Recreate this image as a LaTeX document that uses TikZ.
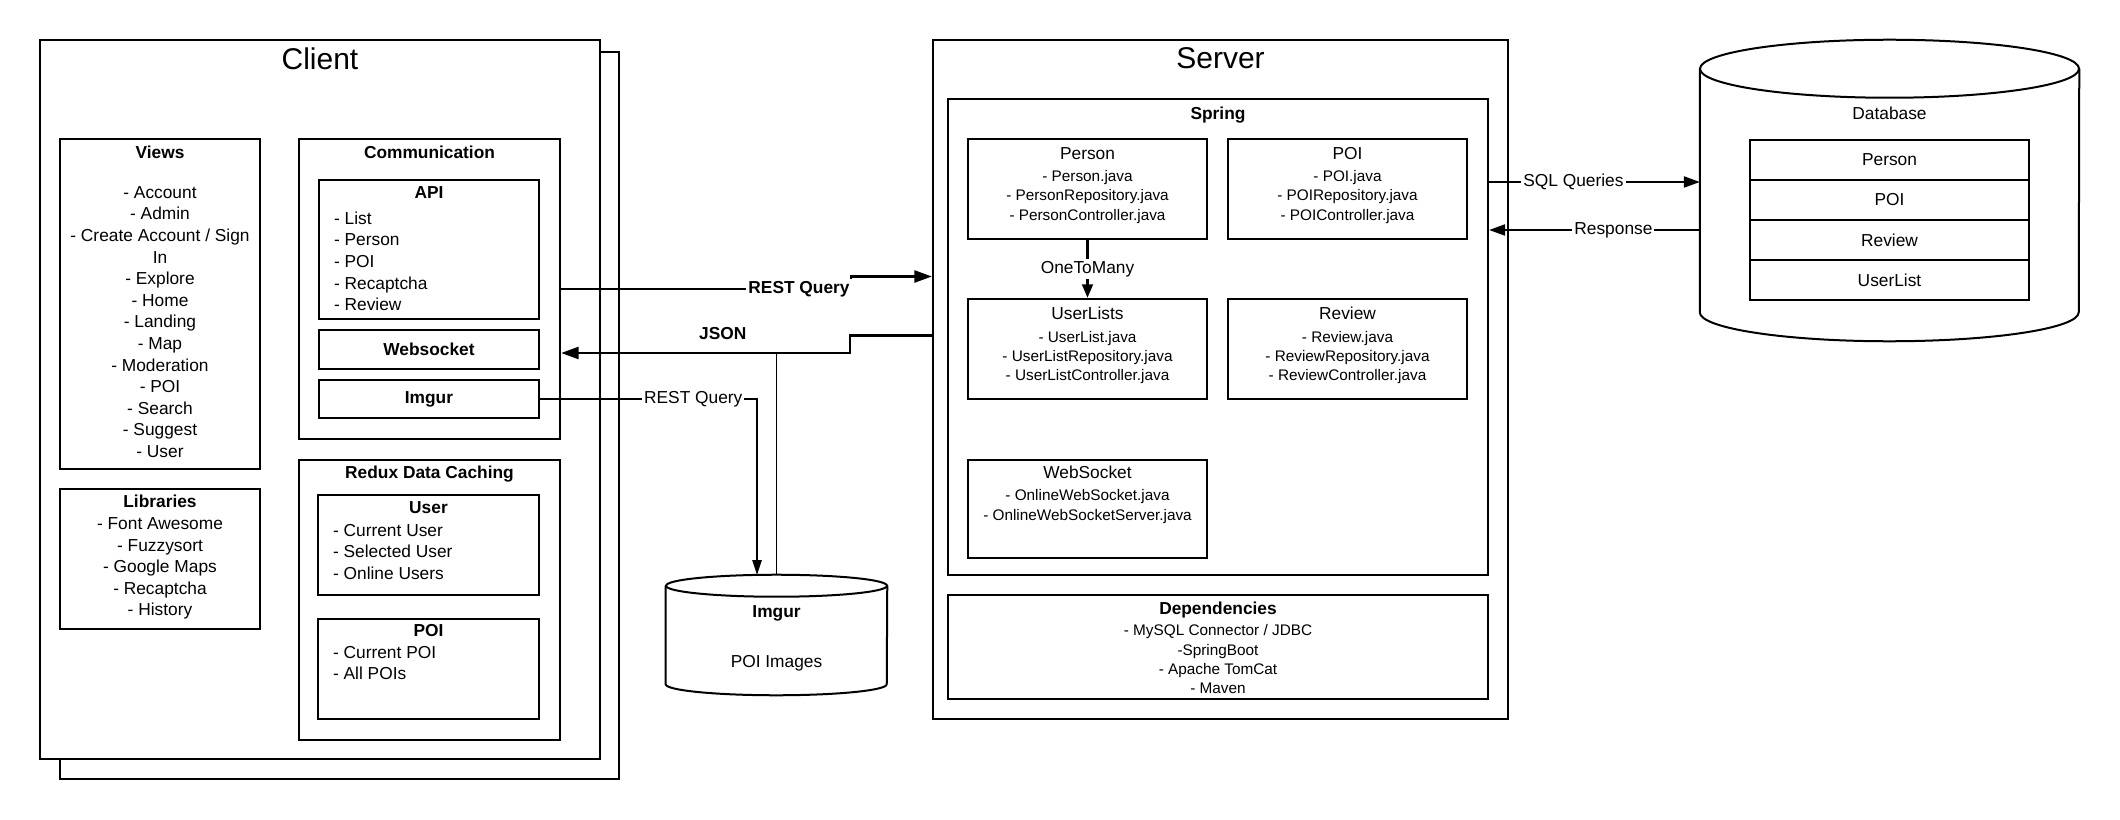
\documentclass[tikz,border=0pt]{standalone}
\usepackage{fontspec}
\setmainfont{Liberation Sans}
\usetikzlibrary{positioning,fit,arrows.meta}

\begin{document}
\begin{tikzpicture}[x=0.75pt, y=-0.75pt]
        \tikzstyle{every node}=[inner sep=0pt, font=\fontsize{13}{16.2}\selectfont]
        \tikzstyle{box}=[draw, line width=1.8pt, fill=white]
        \tikzstyle{txt}=[align=center]
        \tikzstyle{filetxt}=[font=\fontsize{11.5}{14.5}\selectfont, align=center]
        \tikzstyle{bigtitle}=[font=\fontsize{22.5}{27}\selectfont]
        \tikzstyle{lbl}=[fill=white, inner sep=1.5pt]
        \tikzstyle{link}=[line width=1.75pt, -{Triangle[length=13pt,width=9pt]}]
        \tikzstyle{thinlink}=[line width=1pt, -{Triangle[length=12pt,width=8.5pt]}]
        \tikzstyle{cyl}=[line width=1.5pt, fill=white]
        \useasboundingbox (0,0) rectangle (2120,820);

        \node[box, fit={(60,52) (619,779)}] (clientback) {};
        \node[box, fit={(40,40) (600,759)}] (client) {};
        \node[bigtitle, below=6.4pt of client.north] (clienttitle) {Client};

        \node[box, fit={(60,139) (260,469)}] (views) {};
        \node[txt, below=5.8pt of views.north] (viewslist) {\textbf{Views}\\[13.8pt]- Account\\- Admin\\- Create Account / Sign\\In\\- Explore\\- Home\\- Landing\\- Map\\- Moderation\\- POI\\- Search\\- Suggest\\- User};
        \node[box, fit={(60,489) (260,629)}] (libs) {};
        \node[txt, below=5.5pt of libs.north] (libslist) {\textbf{Libraries}\\- Font Awesome\\- Fuzzysort\\- Google Maps\\- Recaptcha\\- History};

        \node[box, fit={(299,139) (560,439)}] (comm) {};
        \node[below=6pt of comm.north] (commtitle) {\textbf{Communication}};
        \node[box, fit={(319,180) (539,319)}] (api) {};
        \node[below=5.5pt of api.north] (apititle) {\textbf{API}};
        \node[align=left, below right=24.5pt and 12pt of api.north west] (apilist) {- List\\- Person\\- POI\\- Recaptcha\\- Review};
        \node[box, fit={(319,330) (539,369)}] (wsock) {};
        \node at (wsock.center) (wsocktxt) {\textbf{Websocket}};
        \node[box, fit={(319,380) (539,418)}] (imgurc) {};
        \node at (imgurc.center) (imgurctxt) {\textbf{Imgur}};

        \node[box, fit={(299,460) (560,740)}] (redux) {};
        \node[below=5pt of redux.north] (reduxtitle) {\textbf{Redux Data Caching}};
        \node[box, fit={(318,495) (539,595)}] (ruser) {};
        \node[below=5.5pt of ruser.north] (rusertitle) {\textbf{User}};
        \node[align=left, below right=22.5pt and 12pt of ruser.north west] (ruserlist) {- Current User\\- Selected User\\- Online Users};
        \node[box, fit={(318,619) (539,719)}] (rpoi) {};
        \node[below=5pt of rpoi.north] (rpoititle) {\textbf{POI}};
        \node[align=left, below right=21pt and 12pt of rpoi.north west] (rpoilist) {- Current POI\\- All POIs};

        \node[box, fit={(933,40) (1508,719)}] (server) {};
        \node[bigtitle, below=6.4pt of server.north] (servertitle) {Server};
        \node[box, fit={(948,99) (1488,575)}] (spring) {};
        \node[below=6.5pt of spring.north] (springtitle) {\textbf{Spring}};

        \node[box, fit={(968,139) (1207,239)}] (person) {};
        \node[filetxt, below=6.8pt of person.north] (personfiles) {{\fontsize{13}{16}\selectfont Person}\\[2.25pt]- Person.java\\- PersonRepository.java\\- PersonController.java};
        \node[box, fit={(1228,139) (1467,239)}] (poi) {};
        \node[filetxt, below=6.8pt of poi.north] (poifiles) {{\fontsize{13}{16}\selectfont POI}\\[2.25pt]- POI.java\\- POIRepository.java\\- POIController.java};
        \node[box, fit={(968,299) (1207,399)}] (userlists) {};
        \node[filetxt, below=6.8pt of userlists.north] (userlistsfiles) {{\fontsize{13}{16}\selectfont UserLists}\\[2.25pt]- UserList.java\\- UserListRepository.java\\- UserListController.java};
        \node[box, fit={(1228,299) (1467,399)}] (review) {};
        \node[filetxt, below=6.8pt of review.north] (reviewfiles) {{\fontsize{13}{16}\selectfont Review}\\[2.25pt]- Review.java\\- ReviewRepository.java\\- ReviewController.java};
        \node[box, fit={(968,460) (1207,558)}] (wsserver) {};
        \node[filetxt, below=5.2pt of wsserver.north] (wsfiles) {{\fontsize{13}{16}\selectfont WebSocket}\\[2.25pt]- OnlineWebSocket.java\\- OnlineWebSocketServer.java};
        \node[box, fit={(948,595) (1488,699)}] (deps) {};
        \node[filetxt, below=5.8pt of deps.north] (depslist) {{\fontsize{13}{16}\selectfont\bfseries Dependencies}\\[1.5pt]- MySQL Connector / JDBC\\-SpringBoot\\- Apache TomCat\\- Maven};

        \node[fit={(1700,40) (2079,341)}] (db) {};
        \draw[cyl] ([yshift=-21.75pt]db.north west) -- ([yshift=21.75pt]db.south west) arc[start angle=180, end angle=0, x radius=189.5, y radius=29] -- ([yshift=-21.75pt]db.north east);
        \draw[cyl] ([yshift=-21.75pt]db.north) ellipse [x radius=189.5, y radius=29];
        \node[below=50pt of db.north] (dbtitle) {Database};
        \node[box, fit={(1750,140) (2029,180)}] (tperson) {};
        \node at (tperson.center) (tpersontxt) {Person};
        \node[box, fit={(1750,180) (2029,220)}] (tpoi) {};
        \node at (tpoi.center) (tpoitxt) {POI};
        \node[box, fit={(1750,220) (2029,260)}] (treview) {};
        \node at (treview.center) (treviewtxt) {Review};
        \node[box, fit={(1750,260) (2029,300)}] (tuserlist) {};
        \node at (tuserlist.center) (tuserlisttxt) {UserList};

        \node[fit={(666,575) (887,695)}] (imgdb) {};
        \draw[cyl] ([yshift=-8.25pt]imgdb.north west) -- ([yshift=8.25pt]imgdb.south west) arc[start angle=180, end angle=0, x radius=110.5, y radius=11] -- ([yshift=-8.25pt]imgdb.north east);
        \draw[cyl] ([yshift=-8.25pt]imgdb.north) ellipse [x radius=110.5, y radius=11];
        \node[txt, below=22.6pt of imgdb.north] (imgdbtxt) {\textbf{Imgur}\\[22pt]POI Images};

        \draw[link] (comm.east) -- node[lbl, pos=0.82] {\textbf{REST Query}} ++(290,0) |- ([yshift=77.25pt]server.west);
        \draw[link] ([yshift=33pt]server.west) -- ++(-82,0) |- node[pos=0.72, above=9pt] (jsonlbl) {\textbf{JSON}} coordinate[pos=0.626] (jsonfork) ([yshift=-48pt]comm.east);
        \draw[line width=1.1pt] (jsonfork -| imgdb.north) -- (imgdb.north);
        \draw[thinlink, -{Triangle[length=11pt,width=7pt]}] (imgurc.east) -| node[lbl, pos=0.353] {REST Query} ([xshift=-14.6pt]imgdb.north);
        \draw[line width=1.75pt, -{Triangle[length=10pt,width=8pt]}] (person) -- node[lbl] {OneToMany} (userlists);
        \draw[thinlink] ([yshift=116.25pt]spring.east) -- node[lbl, pos=0.4] {SQL Queries} ([yshift=116.25pt]spring.east -| db.west);
        \draw[thinlink] ([yshift=80.25pt]spring.east -| db.west) -- node[lbl, pos=0.41] {Response} ([yshift=80.25pt]spring.east);
    \end{tikzpicture}
\end{document}
